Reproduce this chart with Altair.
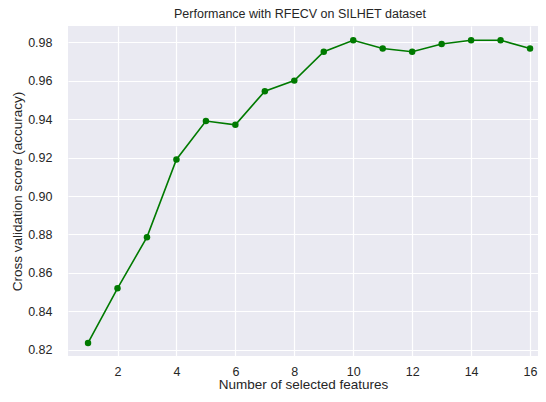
import altair as alt
import pandas as pd

features = [1, 2, 3, 4, 5, 6, 7, 8, 9, 10, 11, 12, 13, 14, 15, 16]
scores = [0.8236, 0.852, 0.8786, 0.919, 0.939, 0.937, 0.9545, 0.960,
          0.975, 0.981, 0.9767, 0.975, 0.979, 0.981, 0.981, 0.9767]
x_ticks = [2, 4, 6, 8, 10, 12, 14, 16]
y_ticks = [0.82, 0.84, 0.86, 0.88, 0.90, 0.92, 0.94, 0.96, 0.98]

df = pd.DataFrame({"n": features, "score": scores})

base = alt.Chart(df).encode(
    x=alt.X("n:Q",
            scale=alt.Scale(domain=[0.32, 16.27], nice=False, zero=False),
            axis=alt.Axis(values=x_ticks, title="Number of selected features",
                          format="d")),
    y=alt.Y("score:Q",
            scale=alt.Scale(domain=[0.8168, 0.9884], nice=False, zero=False),
            axis=alt.Axis(values=y_ticks, title="Cross validation score (accuracy)",
                          format=".2f")),
)

line = base.mark_line(color="#007a00", strokeWidth=1.6, clip=True)
pts = base.mark_circle(color="#007a00", size=42, opacity=1, clip=True)

chart = (line + pts).properties(
    width=470, height=330,
    title=alt.TitleParams("Performance with RFECV on SILHET dataset",
                          font="Liberation Sans", fontSize=12.5, fontWeight="normal",
                          color="#262626", offset=6, dx=-3),
    padding={"left": 60, "top": 18, "right": 0, "bottom": 38},
    autosize=alt.AutoSizeParams(type="none"),
).configure_view(
    fill="#EAEAF2", stroke=None
).configure_axis(
    grid=True, gridColor="white", gridWidth=1.2,
    domain=False, ticks=False,
    labelFont="Liberation Sans", labelFontSize=12.5, labelColor="#262626",
    titleFont="Liberation Sans", titleFontSize=13.5, titleColor="#262626",
    titleFontWeight="normal",
).configure_axisY(labelPadding=16, titlePadding=3).configure_axisX(labelPadding=9, titlePadding=0)

chart.save("out.html", embed_options={"renderer": "svg", "actions": False})
